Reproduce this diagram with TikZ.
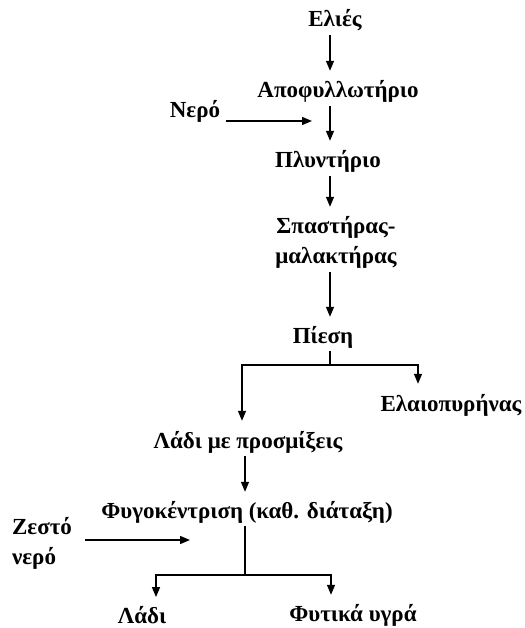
\documentclass[tikz,border=0pt]{standalone}
\usepackage{fontspec}
\setmainfont{Liberation Serif}
\usetikzlibrary{arrows.meta, positioning, calc}
\tikzset{
  stage/.style = {font=\bfseries\fontsize{23}{30}\selectfont, inner sep=1pt, align=center},
  flow/.style  = {-{Triangle[length=10pt, width=8pt]}, line width=1.4pt},
  bar/.style   = {line width=1.4pt},
}
\begin{document}
\begin{tikzpicture}[x=1pt, y=-1pt]
  \useasboundingbox (0,0) rectangle (524,628);
  % process stages
  \node[stage] (elies) at (335,20)  {Ελιές};
  \node[stage] (apo)   at (338,91)  {Αποφυλλωτήριο};
  \node[stage] (nero)  at (195,111) {Νερό};
  \node[stage] (plyn)  at (328,161) {Πλυντήριο};
  \node[stage] (spa)   at (336,242) {Σπαστήρας-\\μαλακτήρας};
  \node[stage] (piesi) at (323,337) {Πίεση};
  \node[stage] (pyr)   at (451,405) {Ελαιοπυρήνας};
  \node[stage] (prosm) at (248,442) {Λάδι με προσμίξεις};
  \node[stage] (fyg)   at (247,512) {Φυγοκέντριση (καθ. διάταξη)};
  \node[stage, align=left] (zesto) at (42,543) {Ζεστό\\νερό};
  \node[stage] (ladi)  at (142,615) {Λάδι};
  \node[stage] (fyta)  at (353,615) {Φυτικά υγρά};

  % main line
  \coordinate (spine) at (330,0);
  \draw[flow, shorten <=3pt, shorten >=8pt] (elies.south -| spine) -- (apo.north -| spine);
  \draw[flow, shorten <=3pt, shorten >=8pt] (apo.south -| spine) -- (plyn.north -| spine);
  \draw[flow, shorten <=3pt, shorten >=8pt] (plyn.south -| spine) -- (spa.north -| spine);
  \draw[flow, shorten <=3pt, shorten >=8pt] (spa.south -| spine) -- (piesi.north -| spine);

  % water in
  \coordinate (neroin) at (312,121);
  \draw[flow] ([xshift=5pt]nero.east |- neroin) -- (neroin);

  % press split
  \coordinate (split1) at (330,365);
  \draw[bar, shorten <=2pt] (piesi.south -| split1) -- (split1);
  \draw[flow] (split1) -| ([xshift=-6pt, yshift=9pt]prosm.north);
  \draw[flow] (split1) -| ([xshift=-33pt, yshift=9pt]pyr.north);

  \draw[flow, shorten <=2pt, shorten >=8pt] (prosm.south -| 245,0) -- (fyg.north -| 245,0);

  % hot water in
  \coordinate (zestoin) at (190,540);
  \draw[flow] ([xshift=12pt]zesto.east |- zestoin) -- (zestoin);

  % centrifuge split
  \coordinate (split2) at (245,575);
  \draw[bar, shorten <=2pt] (fyg.south -| split2) -- (split2);
  \draw[flow] (split2) -| ([xshift=14pt, yshift=8pt]ladi.north);
  \draw[flow] (split2) -| ([xshift=-22pt, yshift=8pt]fyta.north);
\end{tikzpicture}
\end{document}
